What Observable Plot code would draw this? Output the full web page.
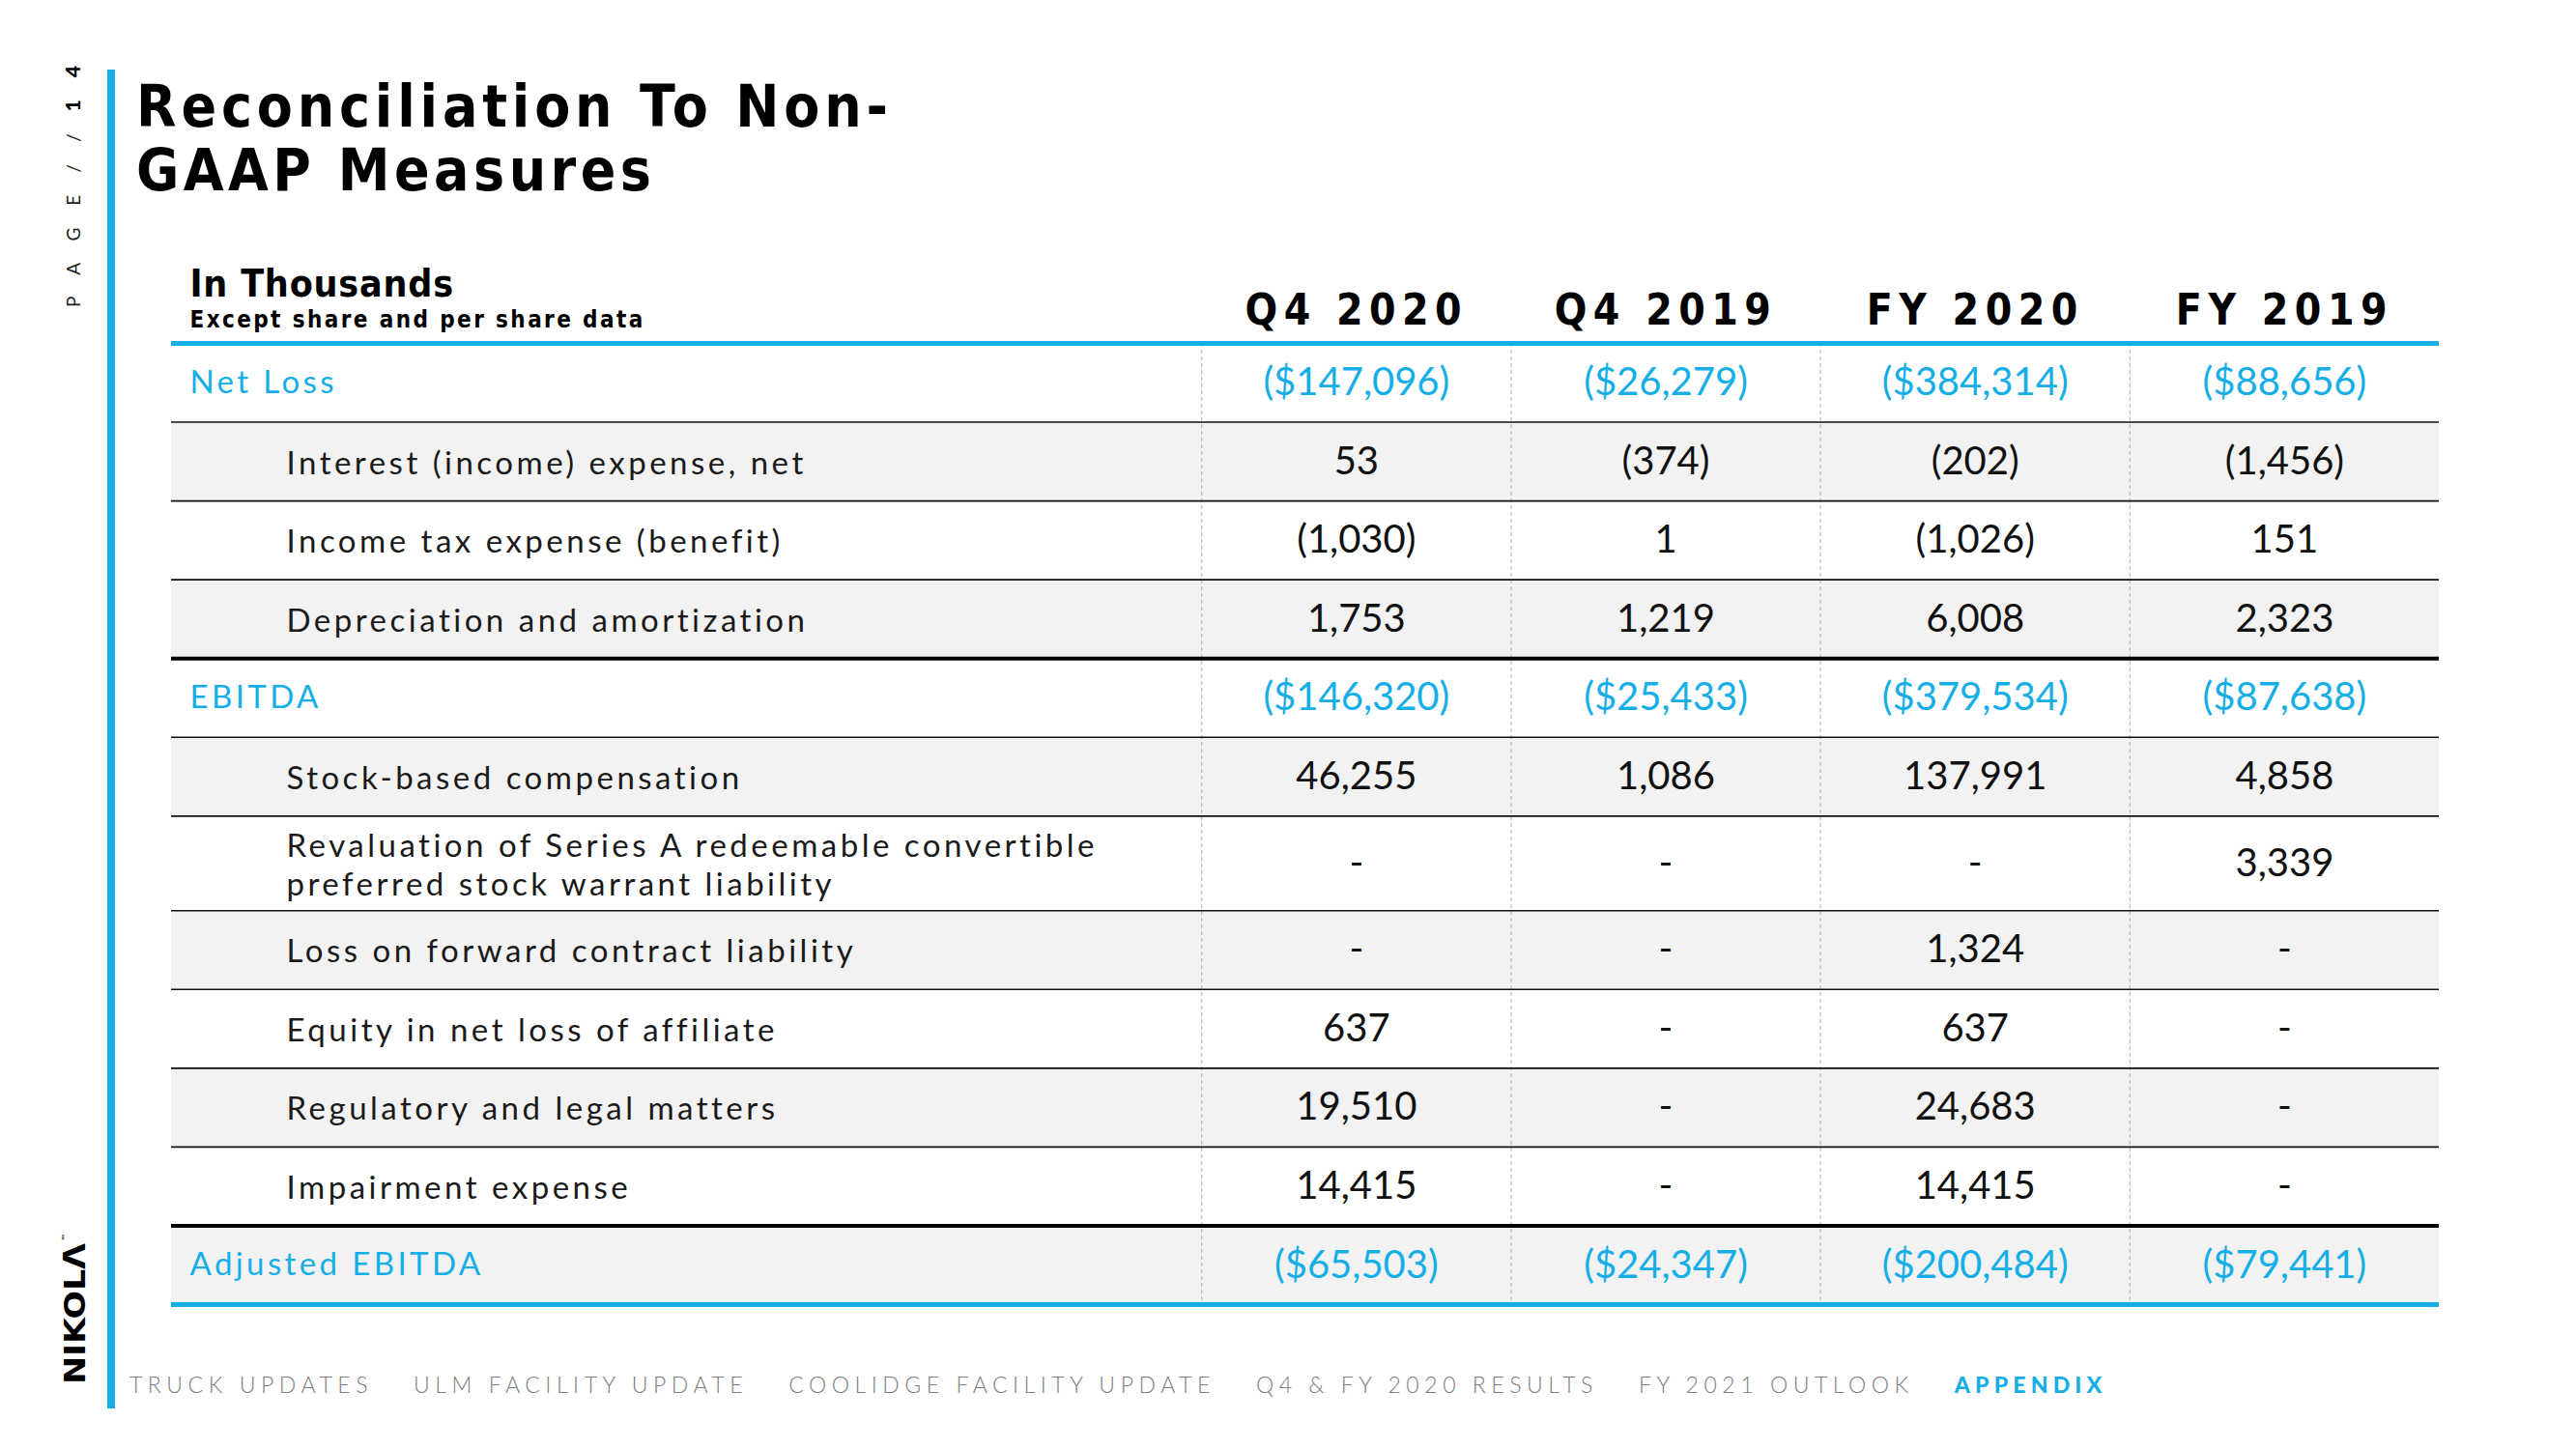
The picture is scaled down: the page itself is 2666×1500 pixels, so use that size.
<!DOCTYPE html>
<html>
<head>
<meta charset="utf-8">
<script src="https://cdn.jsdelivr.net/npm/d3@7"></script>
<script src="https://cdn.jsdelivr.net/npm/@observablehq/plot@0.6"></script>
<style>
  html, body { margin: 0; padding: 0; background: #fff; }
  #page { position: relative; width: 2666px; height: 1500px; overflow: hidden; font-family: Lato, "Open Sans", sans-serif; }
  #chart { position: absolute; left: 0; top: 0; }
  #overlay { position: absolute; left: 0; top: 0; pointer-events: none; }
  #footer { position: absolute; left: 134px; top: 1420px; display: flex; gap: 42px; white-space: nowrap;
            font-family: Lato, sans-serif; font-weight: 300; font-size: 23px; line-height: 26px; letter-spacing: 5.55px; color: #7d7d7d; }
  #footer .active { color: #15aee6; font-weight: 900; letter-spacing: 5.2px; }
</style>
</head>
<body>
<div id="page">
  <div id="chart"></div>
  <svg id="overlay" width="2666" height="1500"></svg>
  <div id="footer"></div>
</div>
<script>
// ---------------- data ----------------
const titleLines = ["Reconciliation To Non-", "GAAP Measures"];
const headerTitle = "In Thousands";
const headerSubtitle = "Except share and per share data";
const columns = ["Q4 2020", "Q4 2019", "FY 2020", "FY 2019"];
const labels = [
  "Net Loss",
  "Interest (income) expense, net",
  "Income tax expense (benefit)",
  "Depreciation and amortization",
  "EBITDA",
  "Stock-based compensation",
  "Revaluation of Series A redeemable convertible\npreferred stock warrant liability",
  "Loss on forward contract liability",
  "Equity in net loss of affiliate",
  "Regulatory and legal matters",
  "Impairment expense",
  "Adjusted EBITDA"
];
const totalRows = ["Net Loss", "EBITDA", "Adjusted EBITDA"];
const valuesQ4_2020 = [-147096, 53, -1030, 1753, -146320, 46255, null, null, 637, 19510, 14415, -65503];
const valuesQ4_2019 = [-26279, -374, 1, 1219, -25433, 1086, null, null, null, null, null, -24347];
const valuesFY2020  = [-384314, -202, -1026, 6008, -379534, 137991, null, 1324, 637, 24683, 14415, -200484];
const valuesFY2019  = [-88656, -1456, 151, 2323, -87638, 4858, 3339, null, null, null, null, -79441];
const navItems = ["TRUCK UPDATES", "ULM FACILITY UPDATE", "COOLIDGE FACILITY UPDATE", "Q4 & FY 2020 RESULTS", "FY 2021 OUTLOOK", "APPENDIX"];
const activeNav = "APPENDIX";
const pageNumber = "14";
const brand = "NIKOLΛ";

// ---------------- styles ----------------
const BLUE = "#15aee6";
const GRAY_ROW = "#f2f2f2";
const COND = "'Liberation Sans Narrow','DejaVu Sans Condensed','Arial Narrow',sans-serif";
const BODY = "Lato, 'Open Sans', sans-serif";
const LABEL_UNITS = 3.33;          // width of the label column, in value-column units
const EXTRA_LINE = 0.2;            // extra row height per additional label line

// ---------------- table model ----------------
const series = [valuesQ4_2020, valuesQ4_2019, valuesFY2020, valuesFY2019];
let acc = 0;
const rows = labels.map((label, i) => {
  const h = 1 + EXTRA_LINE * (label.split("\n").length - 1);
  const r = {i, label, total: totalRows.includes(label), top: acc, bottom: acc + h, mid: acc + h / 2};
  acc += h;
  return r;
});
const TOTAL = acc;
const XMAX = LABEL_UNITS + columns.length;
const fmt = (v, total) => {
  if (v == null) return "-";
  let s = d3.format(",")(Math.abs(v));
  if (total) s = "$" + s;
  return v < 0 ? `(${s})` : s;
};
const cells = [];
series.forEach((vals, j) => rows.forEach((r, i) => {
  cells.push({x: LABEL_UNITS + j + 0.5, y: r.mid, text: fmt(vals[i], r.total), total: r.total});
}));
const heads = columns.map((c, j) => ({x: LABEL_UNITS + j + 0.5, text: c}));
const dividers = columns.map((c, j) => LABEL_UNITS + j);

const plot = Plot.plot({
  width: 2666, height: 1500,
  marginLeft: 177, marginRight: 142, marginTop: 355, marginBottom: 150,
  x: {domain: [0, XMAX], axis: null},
  y: {domain: [0, TOTAL], reverse: true, axis: null},
  style: {background: "transparent", fontFamily: BODY, overflow: "visible"},
  marks: [
    Plot.rect(rows.filter(r => r.i % 2 === 1), {x1: 0, x2: XMAX, y1: "top", y2: "bottom", fill: GRAY_ROW}),
    Plot.ruleX(dividers, {x: d => d, y1: 0, y2: TOTAL, stroke: "#b0b0b0", strokeWidth: 1, strokeDasharray: "4,3"}),
    Plot.ruleY(rows.filter(r => r.i > 0 && !r.total), {y: "top", x1: 0, x2: XMAX, stroke: "#111", strokeWidth: 1.6}),
    Plot.ruleY(rows.filter(r => r.i > 0 && r.total), {y: "top", x1: 0, x2: XMAX, stroke: "#000", strokeWidth: 4}),
    Plot.ruleY([0, TOTAL], {y: d => d, x1: 0, x2: XMAX, stroke: BLUE, strokeWidth: 5}),
    // row labels
    Plot.text(rows.filter(r => r.total), {x: 0, y: "mid", text: "label", textAnchor: "start", dx: 19,
      fill: BLUE, fontSize: 33, fontWeight: 400}),
    Plot.text(rows.filter(r => !r.total), {x: 0, y: "mid", text: "label", textAnchor: "start", dx: 119,
      fill: "#1a1a1a", fontSize: 33, fontWeight: 400, lineHeight: 1.22}),
    // values
    Plot.text(cells.filter(d => d.total), {x: "x", y: "y", text: "text", fill: BLUE, fontSize: 40, fontWeight: 400}),
    Plot.text(cells.filter(d => !d.total), {x: "x", y: "y", text: "text", fill: "#111", fontSize: 40, fontWeight: 400}),
    // column headers
    Plot.text(heads, {x: "x", y: 0, text: "text", lineAnchor: "bottom", dy: -20, fill: "#000",
      fontSize: 44, fontWeight: 700, fontFamily: COND}),
    Plot.text([headerTitle], {x: 0, y: 0, text: d => d, textAnchor: "start", lineAnchor: "bottom", dx: 19, dy: -49,
      fill: "#000", fontSize: 39, fontWeight: 700, fontFamily: COND}),
    Plot.text([headerSubtitle], {x: 0, y: 0, text: d => d, textAnchor: "start", lineAnchor: "bottom", dx: 19, dy: -17,
      fill: "#000", fontSize: 24, fontWeight: 700, fontFamily: COND})
  ]
});
document.getElementById("chart").appendChild(plot);

// letter spacing per text mark (in mark order)
const spacing = [3.4, 3.5, 0, 0, 6.5, 0.8, 2.4];
d3.select(plot).selectAll('g[aria-label="text"]').each(function(_, k) {
  d3.select(this).style("letter-spacing", spacing[k] + "px");
});

// ---------------- page furniture ----------------
const ov = d3.select("#overlay");
ov.append("rect").attr("x", 111).attr("y", 72).attr("width", 8).attr("height", 1386).attr("fill", BLUE);
const tl = ov.append("g").attr("font-family", COND).attr("font-weight", 700).attr("font-size", 60).attr("fill", "#000");
const titleWidths = [778, 533];
titleLines.forEach((t, k) => {
  tl.append("text").attr("x", 141).attr("y", 131 + 66 * k).attr("textLength", titleWidths[k])
    .attr("lengthAdjust", "spacing").text(t);
});
// vertical page label
const pl = ov.append("text").attr("transform", "translate(83,318) rotate(-90)")
  .attr("font-family", BODY).attr("font-size", 19).attr("fill", "#222")
  .attr("textLength", 250).attr("lengthAdjust", "spacing");
pl.append("tspan").attr("font-weight", 400).text("P A G E  / /  ");
pl.append("tspan").attr("font-weight", 900).attr("fill", "#000").attr("font-size", 21).text(pageNumber.split("").join(" "));
// vertical brand
ov.append("text").attr("transform", "translate(88,1433) rotate(-90)")
  .attr("font-family", "'DejaVu Sans', sans-serif").attr("font-weight", 700).attr("font-size", 31).attr("fill", "#000")
  .attr("textLength", 146).attr("lengthAdjust", "spacingAndGlyphs").text(brand);
ov.append("text").attr("transform", "translate(70,1284) rotate(-90)")
  .attr("font-family", BODY).attr("font-size", 8).attr("fill", "#000").text("™");

// footer navigation
const ft = d3.select("#footer");
navItems.forEach(n => ft.append("span").attr("class", n === activeNav ? "active" : null).text(n));
</script>
</body>
</html>
